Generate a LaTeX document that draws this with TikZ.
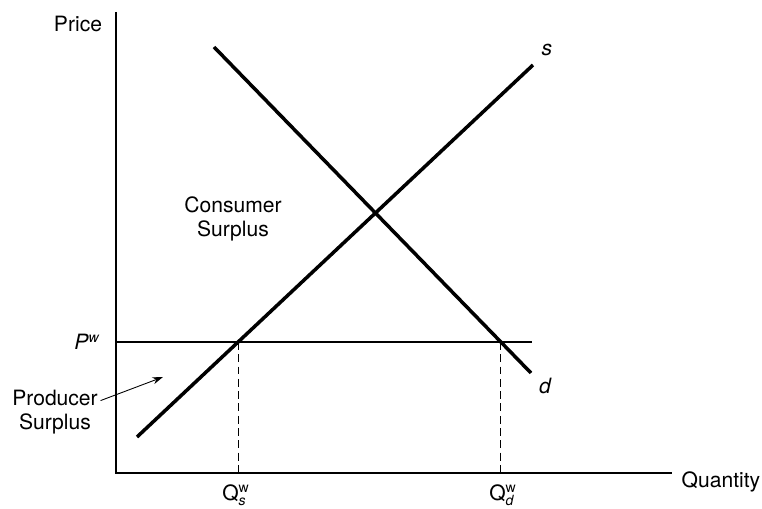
\documentclass[tikz,border=0pt]{standalone}
\usepackage{fontspec}
\setmainfont{TeX Gyre Heros}
\usetikzlibrary{intersections, arrows.meta}
\tikzset{every picture/.style={line width=0.6pt}}

\begin{document}
\begin{tikzpicture}[x=0.02cm, y=-0.02cm, >={Stealth[length=6pt, width=4pt]}, every node/.style={font=\fontsize{12}{14}\selectfont},
    curve/.style={line width=2pt},
    guide/.style={dash pattern=on 4.5pt off 2.5pt}]
        \useasboundingbox (0, 0) rectangle (762, 509);
        % axes
        \coordinate (o)  at (116, 473);
        \coordinate (ytop) at (116, 12);
        \coordinate (xend) at (672, 473);
        \draw (ytop) -- (o) -- (xend);
        \node (price) at (78, 24) {Price};
        \node (qty) at (721, 482) {Quantity};
        % supply and demand
        \coordinate (s0) at (137, 437);
        \coordinate (s1) at (533, 65);
        \coordinate (d0) at (214, 47);
        \coordinate (d1) at (531, 373);
        \draw[curve, name path=supply] (s0) -- (s1);
        \draw[curve, name path=demand] (d0) -- (d1);
        \node (s) at (547, 50) {\itshape s};
        \node (d) at (545, 386) {\itshape d};
        % world price
        \coordinate (pw0) at (116, 342);
        \coordinate (pw1) at (532, 342);
        \draw[name path=world] (pw0) -- (pw1);
        \node (pw) at (87, 342) {$\mathit{P}^{\mathit{w}}$};
        \path[name intersections={of=supply and world, by=qs}];
        \path[name intersections={of=demand and world, by=qd}];
        \draw[guide] (qs) -- (qs |- o);
        \draw[guide] (qd) -- (qd |- o);
        \node (qslab) at (236, 495) {$\mathrm{Q}^{\mathrm{w}}_{\mathit{s}}$};
        \node (qdlab) at (503, 495) {$\mathrm{Q}^{\mathrm{w}}_{\mathit{d}}$};
        % surplus labels
        \node[align=center] (cs) at (233, 219) {Consumer\\Surplus};
        \node[align=center] (ps) at (55, 412) {Producer\\Surplus};
        \coordinate (psarrow) at (163, 377);
        \draw[->, line width=0.5pt] ([yshift=6.5pt, xshift=-2pt]ps.east) -- (psarrow);
    \end{tikzpicture}
\end{document}
